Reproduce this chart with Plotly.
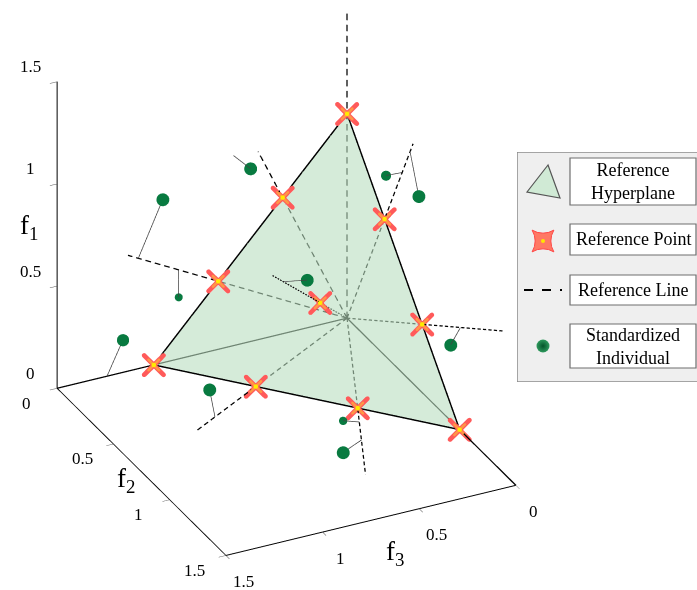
import math
import plotly.graph_objects as go

# ---------------- data ----------------
# reference points on the unit hyperplane (f1, f2, f3)
ref_f1 = [1.0, 2/3, 1/3, 0.0, 2/3, 1/3, 0.0, 0.0, 0.0, 1/3]
ref_f2 = [0.0, 1/3, 2/3, 1.0, 0.0, 0.0, 0.0, 1/3, 2/3, 1/3]
ref_f3 = [0.0, 0.0, 0.0, 0.0, 1/3, 2/3, 1.0, 2/3, 1/3, 1/3]
# how far each reference line is drawn (multiple of its reference point)
ref_line_reach = [1.53, 1.76, 2.08, 1.5, 1.38, 1.70, 1.5, 1.64, 1.74, 2.78]

# corners of the reference hyperplane
plane_f1 = [1.0, 0.0, 0.0]
plane_f2 = [0.0, 1.0, 0.0]
plane_f3 = [0.0, 0.0, 1.0]

# standardized individuals
ind_f1 = [0.850, 0.806, 0.304, 0.161, 0.149, 0.634, 0.892, 1.060, 0.429, 0.003, 0.011]
ind_f2 = [0.006, 0.011, 0.003, 0.004, 0.496, 0.590, 0.354, 0.809, 1.006, 0.737, 0.978]
ind_f3 = [0.503, 0.960, 0.873, 1.162, 1.000, 0.550, 0.005, 0.100, 0.050, 0.450, 0.590]
# nearest point on the associated reference line
foot_f1 = [0.933, 0.540, 0.437, 0.000, 0.000, 0.790, 0.980, 1.120, 0.503, 0.000, 0.000]
foot_f2 = [0.004, 0.000, 0.000, 0.000, 0.482, 0.790, 0.490, 0.560, 1.007, 0.770, 0.904]
foot_f3 = [0.590, 1.080, 0.873, 1.242, 0.964, 0.790, 0.000, 0.000, 0.000, 0.385, 0.452]

tick_vals = [0, 0.5, 1, 1.5]
tick_text = ["0", "0.5", "1", "1.5"]
axis_max = 1.5
axis_titles = ["f<sub>1</sub>", "f<sub>2</sub>", "f<sub>3</sub>"]

legend_labels = ["Reference<br>Hyperplane", "Reference Point", "Reference Line",
                 "Standardized<br>Individual"]

# ---------------- camera / aspect ----------------
az, el = math.radians(63.7), math.radians(29.3)
vdir = (math.cos(el) * math.cos(az), math.cos(el) * math.sin(az), math.sin(el))
upv = (-math.cos(az) * math.sin(el), -math.sin(az) * math.sin(el), math.cos(el))
D = 1.8
shift = 0.0389
cen = tuple(-shift * u for u in upv)
eye = tuple(cen[i] + D * vdir[i] for i in range(3))
zoom = 1.1916
aspect = (0.92 * zoom, 1.084 * zoom, 1.0 * zoom)   # scene x=f3, y=f2, z=f1

# viewing direction expressed in data units (used to keep flat markers in
# front of the translucent hyperplane without moving them on screen)
vd = [vdir[i] / aspect[i] for i in range(3)]
vn = math.sqrt(sum(v * v for v in vd))
vd = [v / vn for v in vd]

def toward_viewer(xs, ys, zs, amount):
    return ([x + amount * vd[0] for x in xs], [y + amount * vd[1] for y in ys],
            [z + amount * vd[2] for z in zs])

# ---------------- figure ----------------
SERIF = "Liberation Serif"
fig = go.Figure()

# reference lines (from the ideal point through every reference point), dashed
DASH, GAP = 0.032, 0.022
lx, ly, lz = [], [], []
for a, b, c, t in zip(ref_f1, ref_f2, ref_f3, ref_line_reach):
    norm = math.sqrt(a * a + b * b + c * c)
    length = norm * t
    d = 0.0
    while d < length:
        e = min(d + DASH, length)
        for u in (d / norm, e / norm):
            lx.append(c * u); ly.append(b * u); lz.append(a * u)
        lx.append(None); ly.append(None); lz.append(None)
        d += DASH + GAP
fig.add_trace(go.Scatter3d(x=lx, y=ly, z=lz, mode="lines",
                           line=dict(color="black", width=2.5),
                           hoverinfo="skip", showlegend=False))

# floor edges through the origin
fig.add_trace(go.Scatter3d(x=[axis_max, 0, 0], y=[0, 0, axis_max], z=[0, 0, 0],
                           mode="lines", line=dict(color="black", width=2.5),
                           hoverinfo="skip", showlegend=False))

# links individual -> reference line
kx, ky, kz = [], [], []
for i in range(len(ind_f1)):
    kx += [ind_f3[i], foot_f3[i], None]
    ky += [ind_f2[i], foot_f2[i], None]
    kz += [ind_f1[i], foot_f1[i], None]
fig.add_trace(go.Scatter3d(x=kx, y=ky, z=kz, mode="lines",
                           line=dict(color="#444444", width=1.5),
                           hoverinfo="skip", showlegend=False))

# hyperplane edges
fig.add_trace(go.Scatter3d(x=plane_f3 + plane_f3[:1], y=plane_f2 + plane_f2[:1],
                           z=plane_f1 + plane_f1[:1], mode="lines",
                           line=dict(color="black", width=3),
                           hoverinfo="skip", showlegend=False))

# hyperplane
fig.add_trace(go.Mesh3d(x=plane_f3, y=plane_f2, z=plane_f1, i=[0], j=[1], k=[2],
                        color="rgb(185,222,192)", opacity=0.6, flatshading=True,
                        lighting=dict(ambient=1, diffuse=0, specular=0, fresnel=0,
                                      roughness=1),
                        hoverinfo="skip", showscale=False))

# individuals (marker size grows with closeness to the viewer)
sizes = []
for a, b, c in zip(ind_f1, ind_f2, ind_f3):
    s = (a + b + c - 1.17) / 0.18
    s = min(max(s, 0), 1)
    sizes.append(9 + 6 * s)
fig.add_trace(go.Scatter3d(x=ind_f3, y=ind_f2, z=ind_f1, mode="markers",
                           marker=dict(size=sizes, color="#087a40", symbol="circle",
                                       opacity=1, line=dict(width=0)),
                           hoverinfo="skip", showlegend=False))

# reference points (red star with orange / yellow core)
for amount, size, color, sym in [(0.02, 5.5, "rgb(255,90,90)", "x"),
                                 (0.03, 3.0, "rgb(255,150,70)", "x"),
                                 (0.04, 2.6, "rgb(255,235,0)", "circle")]:
    sx, sy, sz = toward_viewer(ref_f3, ref_f2, ref_f1, amount)
    fig.add_trace(go.Scatter3d(x=sx, y=sy, z=sz, mode="markers",
                               marker=dict(size=size, color=color, symbol=sym,
                                           opacity=1),
                               hoverinfo="skip", showlegend=False))

def axis():
    return dict(range=[0, axis_max], tickvals=tick_vals, showticklabels=False,
                showgrid=False, zeroline=False, showbackground=False,
                showline=True, linecolor="black", linewidth=2,
                ticks="outside", ticklen=8, tickcolor="#555555",
                title=dict(text=""), showspikes=False)

# upright tick labels and axis titles (scene annotations anchored on the axes)
tick_font = dict(family=SERIF, size=17, color="black")
title_font = dict(family=SERIF, size=27, color="black")
scene_ann = []
for v, txt in zip(tick_vals, tick_text):
    scene_ann.append(dict(x=axis_max, y=0, z=v, text=txt, showarrow=False,
                          xshift=-27, yshift=15, font=tick_font))
    scene_ann.append(dict(x=axis_max, y=v, z=0, text=txt, showarrow=False,
                          xshift=-31, yshift=-15, font=tick_font))
    scene_ann.append(dict(x=v, y=axis_max, z=0, text=txt, showarrow=False,
                          xshift=18, yshift=-26, font=tick_font))
mid = axis_max / 2
scene_ann.append(dict(x=axis_max, y=0, z=mid, text=axis_titles[0], showarrow=False,
                      xshift=-28, yshift=8, font=title_font))
scene_ann.append(dict(x=axis_max, y=mid, z=0, text=axis_titles[1], showarrow=False,
                      xshift=-15, yshift=-8, font=title_font))
scene_ann.append(dict(x=mid, y=axis_max, z=0, text=axis_titles[2], showarrow=False,
                      xshift=24, yshift=-33, font=title_font))

fig.update_layout(
    width=697, height=590,
    margin=dict(l=0, r=0, t=0, b=0),
    paper_bgcolor="white",
    plot_bgcolor="rgba(0,0,0,0)",
    showlegend=False,
    scene=dict(
        domain=dict(x=[0, 0.8214], y=[0, 1.0]),
        xaxis=axis(), yaxis=axis(), zaxis=axis(),
        aspectmode="manual",
        aspectratio=dict(x=aspect[0], y=aspect[1], z=aspect[2]),
        camera=dict(eye=dict(x=eye[0], y=eye[1], z=eye[2]),
                    up=dict(x=0, y=0, z=1),
                    center=dict(x=cen[0], y=cen[1], z=cen[2]),
                    projection=dict(type="orthographic")),
        annotations=scene_ann,
    ),
    xaxis=dict(domain=[517 / 697, 1], range=[517, 697], visible=False, fixedrange=True),
    yaxis=dict(domain=[1 - 382 / 590, 1 - 152 / 590], range=[382, 152], visible=False,
               fixedrange=True),
)

# ---------------- legend panel ----------------
shapes = [dict(type="rect", xref="x", yref="y", x0=517, x1=700, y0=152, y1=382,
               fillcolor="#efefef", line=dict(color="#8c8c8c", width=1.5), layer="below")]
boxes = [(158, 205), (224, 255), (275, 305), (324, 368)]
for (y0, y1), lab in zip(boxes, legend_labels):
    shapes.append(dict(type="rect", xref="x", yref="y", x0=570, x1=696, y0=y0, y1=y1,
                       fillcolor="white", line=dict(color="#6e6e6e", width=1.2),
                       layer="below"))
    fig.add_annotation(x=633, y=(y0 + y1) / 2, xref="x", yref="y", text=lab,
                       showarrow=False, font=dict(family=SERIF, size=18, color="black"),
                       align="center")
shapes.append(dict(type="path", xref="x", yref="y",
                   path="M 548 165 L 527 192 L 560 198 Z",
                   fillcolor="rgb(208,234,213)", line=dict(color="#555555", width=1.2)))
shapes.append(dict(type="line", xref="x", yref="y", x0=524, x1=562, y0=290, y1=290,
                   line=dict(color="black", width=2, dash="dash")))
fig.update_layout(shapes=shapes)

fig.add_trace(go.Scatter(x=[543], y=[241], mode="markers",
                         marker=dict(symbol="star-diamond", angle=45, size=22,
                                     color="rgb(255,120,100)",
                                     line=dict(color="rgb(255,70,70)", width=1)),
                         hoverinfo="skip", showlegend=False))
fig.add_trace(go.Scatter(x=[543], y=[241], mode="markers",
                         marker=dict(symbol="circle", size=4, color="rgb(255,230,0)"),
                         hoverinfo="skip", showlegend=False))
fig.add_trace(go.Scatter(x=[543], y=[346], mode="markers",
                         marker=dict(symbol="circle", size=13, color="#2f9a5e",
                                     gradient=dict(type="radial", color="#04542a"),
                                     line=dict(width=0)),
                         hoverinfo="skip", showlegend=False))

fig.write_html("out.html", config={"displayModeBar": False},
               post_script="document.body.style.margin='0px';")
